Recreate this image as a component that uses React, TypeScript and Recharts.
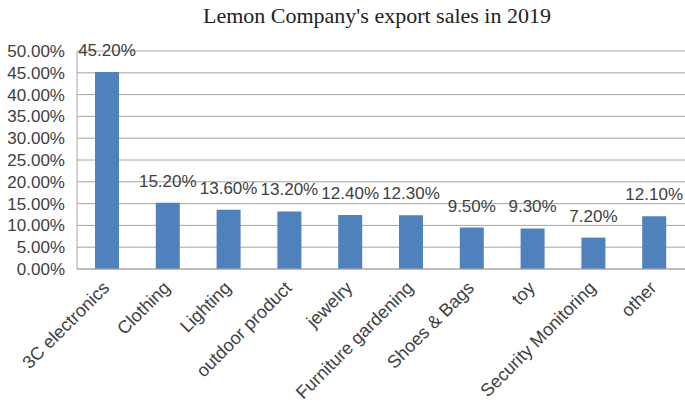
import React from 'react';
import { BarChart, Bar, XAxis, YAxis, CartesianGrid, LabelList } from 'recharts';

const categories = ['3C electronics', 'Clothing', 'Lighting', 'outdoor product', 'jewelry', 'Furniture gardening', 'Shoes & Bags', 'toy', 'Security Monitoring', 'other'];
const shares = [45.2, 15.2, 13.6, 13.2, 12.4, 12.3, 9.5, 9.3, 7.2, 12.1];
const yTicks = [0, 5, 10, 15, 20, 25, 30, 35, 40, 45, 50];
const title = "Lemon Company's export sales in 2019";

const data = categories.map((name, i) => ({ name, value: shares[i] }));

const FONT = '"Liberation Sans", Arial, sans-serif';
const TEXT = '#404040';

const fmt = (v: number) => `${Number(v).toFixed(2)}%`;

const XTick = (props: any) => {
  const { x, y, payload } = props;
  return (
    <g transform={`translate(${x + 3},${y + 12})`}>
      <text x={0} y={0} textAnchor="end" transform="rotate(-45)" fill={TEXT} fontSize={18} fontFamily={FONT}>
        {payload.value}
      </text>
    </g>
  );
};

export default function App() {
  return (
    <div style={{ position: 'absolute', left: 0, top: 0, width: 685, height: 406, background: '#fff' }}>
      <BarChart width={685} height={406} data={data} margin={{ top: 51, right: 0, left: 0, bottom: 0 }}>
        <text x={377} y={23} textAnchor="middle" fontSize={22} fontFamily='"Liberation Serif", "Times New Roman", serif' fill="#222">
          {title}
        </text>
        <CartesianGrid vertical={false} stroke="#A6A6A6" strokeWidth={1} />
        <XAxis
          dataKey="name"
          interval={0}
          tickLine={false}
          axisLine={{ stroke: '#A6A6A6' }}
          tick={<XTick />}
          height={137}
        />
        <YAxis
          width={77}
          domain={[0, 50]}
          ticks={yTicks}
          interval={0}
          tickFormatter={fmt}
          tickLine={false}
          tickSize={0}
          tickMargin={12}
          axisLine={{ stroke: '#A6A6A6' }}
          tick={{ fill: TEXT, fontSize: 17, fontFamily: FONT }}
        />
        <Bar dataKey="value" fill="#4F81BD" barSize={24} isAnimationActive={false}>
          <LabelList dataKey="value" position="top" offset={16} formatter={fmt} fill={TEXT} fontSize={17} fontFamily={FONT} />
        </Bar>
      </BarChart>
    </div>
  );
}
